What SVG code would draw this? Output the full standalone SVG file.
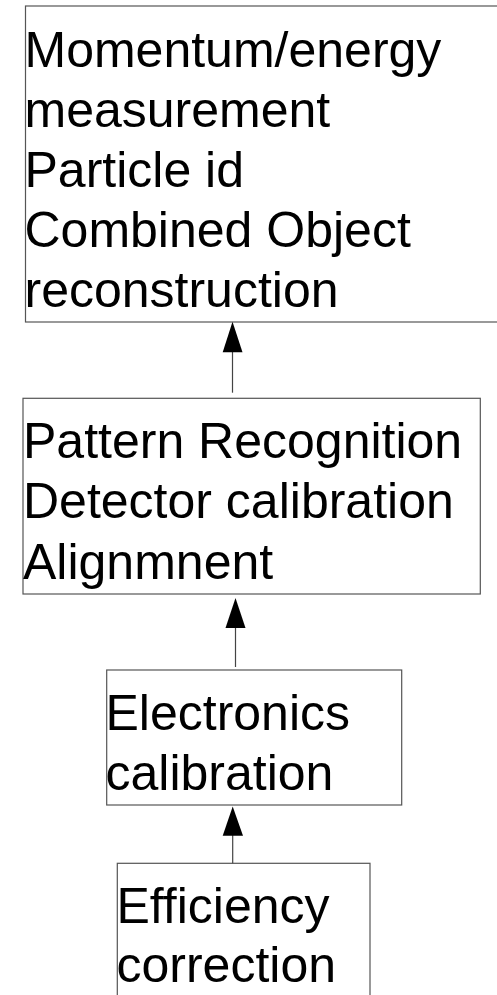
<svg xmlns="http://www.w3.org/2000/svg" width="497" height="995" viewBox="0 0 497 995">
<style>
.box{fill:#fff;stroke:#555;stroke-width:1.2}
.t{font-family:"Liberation Sans",Arial,sans-serif;font-size:50px;fill:#000}
.c{stroke:#444;stroke-width:1.2;fill:none}
.h{fill:#000}
</style>
<rect width="497" height="995" fill="#fff"/>
<g id="n1">
<rect class="box" x="25.5" y="6" width="490" height="316"/>
<text class="t" x="24.5" y="66.7">Momentum/energy</text>
<text class="t" x="24.5" y="126.7">measurement</text>
<text class="t" x="24.5" y="186.7">Particle id</text>
<text class="t" x="24.5" y="246.7">Combined Object</text>
<text class="t" x="24.5" y="306.7">reconstruction</text>
</g>
<g id="n2">
<rect class="box" x="23" y="398.3" width="457.3" height="195.7"/>
<text class="t" x="23" y="458.3">Pattern Recognition</text>
<text class="t" x="23" y="518.3">Detector calibration</text>
<text class="t" x="23" y="578.8">Alignmnent</text>
</g>
<g id="n3">
<rect class="box" x="106.7" y="670" width="295" height="135"/>
<text class="t" x="105.5" y="730">Electronics</text>
<text class="t" x="105.5" y="789.5">calibration</text>
</g>
<g id="n4">
<rect class="box" x="117.3" y="863.3" width="252.7" height="150"/>
<text class="t" x="116.5" y="922.8">Efficiency</text>
<text class="t" x="116.5" y="981.8">correction</text>
</g>
<g id="connectors">
<line class="c" x1="232.5" y1="392.7" x2="232.5" y2="350"/>
<polygon class="h" points="232.5,321.7 222.7,352.3 242.5,352.3"/>
<line class="c" x1="235.5" y1="667" x2="235.5" y2="626"/>
<polygon class="h" points="235.5,598 225.5,628 245.5,628"/>
<line class="c" x1="232.7" y1="863.3" x2="232.7" y2="834"/>
<polygon class="h" points="232.7,806.5 222.7,835.7 243,835.7"/>
</g>
</svg>
